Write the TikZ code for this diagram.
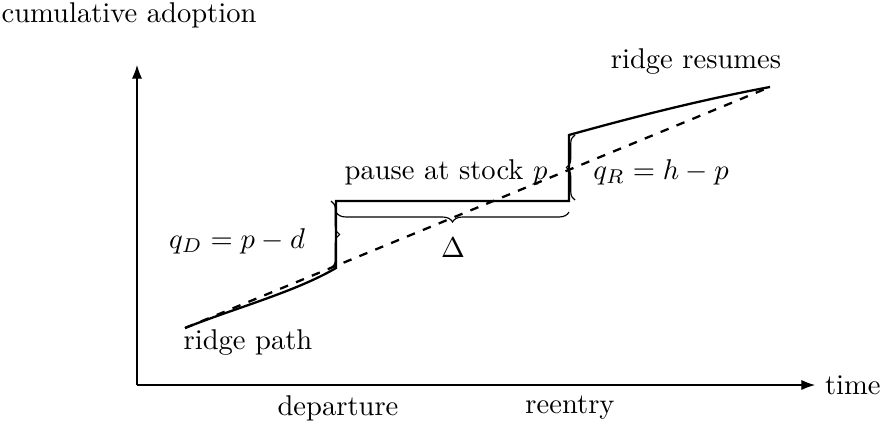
\documentclass[tikz,border=0pt]{standalone}
\usetikzlibrary{arrows.meta,positioning,decorations.pathreplacing}
\tikzset{
  axis/.style     = {-{Latex}},
  ridge/.style    = {thick},
  ridgeref/.style = {thick, dashed},
  brc/.style      = {decorate, decoration={brace, amplitude=3pt}},
}

\begin{document}
\begin{tikzpicture}[x=0.0123cm, y=-0.0123cm]
  \useasboundingbox (0,0) rectangle (887,423);
  % axes
  \coordinate (origin) at (137,385);
  \coordinate (yend) at (137,65);
  \coordinate (xend) at (815,385);
  \draw[axis] (origin) -- (yend);
  \draw[axis] (origin) -- (xend);
  \node (ylab) at (129,15) {cumulative adoption};
  \node[right=0pt of xend] (xlab) {time};
  % ridge with pause
  \coordinate (start) at (185,328);
  \coordinate (dep) at (336,268);
  \coordinate (depTop) at (336,201);
  \coordinate (reBot) at (569,201);
  \coordinate (reTop) at (569,135);
  \coordinate (finish) at (770,87);
  \draw[ridgeref] (start) -- (finish);
  \draw[ridge] (start) .. controls (235,308) and (295,292) .. (dep)
    -- (depTop) -- (reBot) -- (reTop) .. controls (630,118) and (700,100) .. (finish);
  % braces
  \coordinate (bDa) at (331,201);
  \coordinate (bDb) at (331,268);
  \coordinate (bPa) at (569,212);
  \coordinate (bPb) at (336,212);
  \coordinate (bRa) at (575,200);
  \coordinate (bRb) at (575,135);
  \draw[brc] (bDa) -- (bDb);
  \draw[brc, decoration={amplitude=3.5pt}] (bPa) -- (bPb);
  \draw[brc] (bRa) -- (bRb);
  % labels
  \node (qd) at (237,241) {$q_D = p - d$};
  \node (delta) at (453,248) {$\Delta$};
  \node (qr) at (661,172) {$q_R = h - p$};
  \node (pause) at (446,172) {pause at stock $p$};
  \node (resume) at (696,62) {ridge resumes};
  \node (rpath) at (248,343) {ridge path};
  \node (deplab) at (338,408) {departure};
  \node (relab) at (570,408) {reentry};
\end{tikzpicture}
\end{document}
